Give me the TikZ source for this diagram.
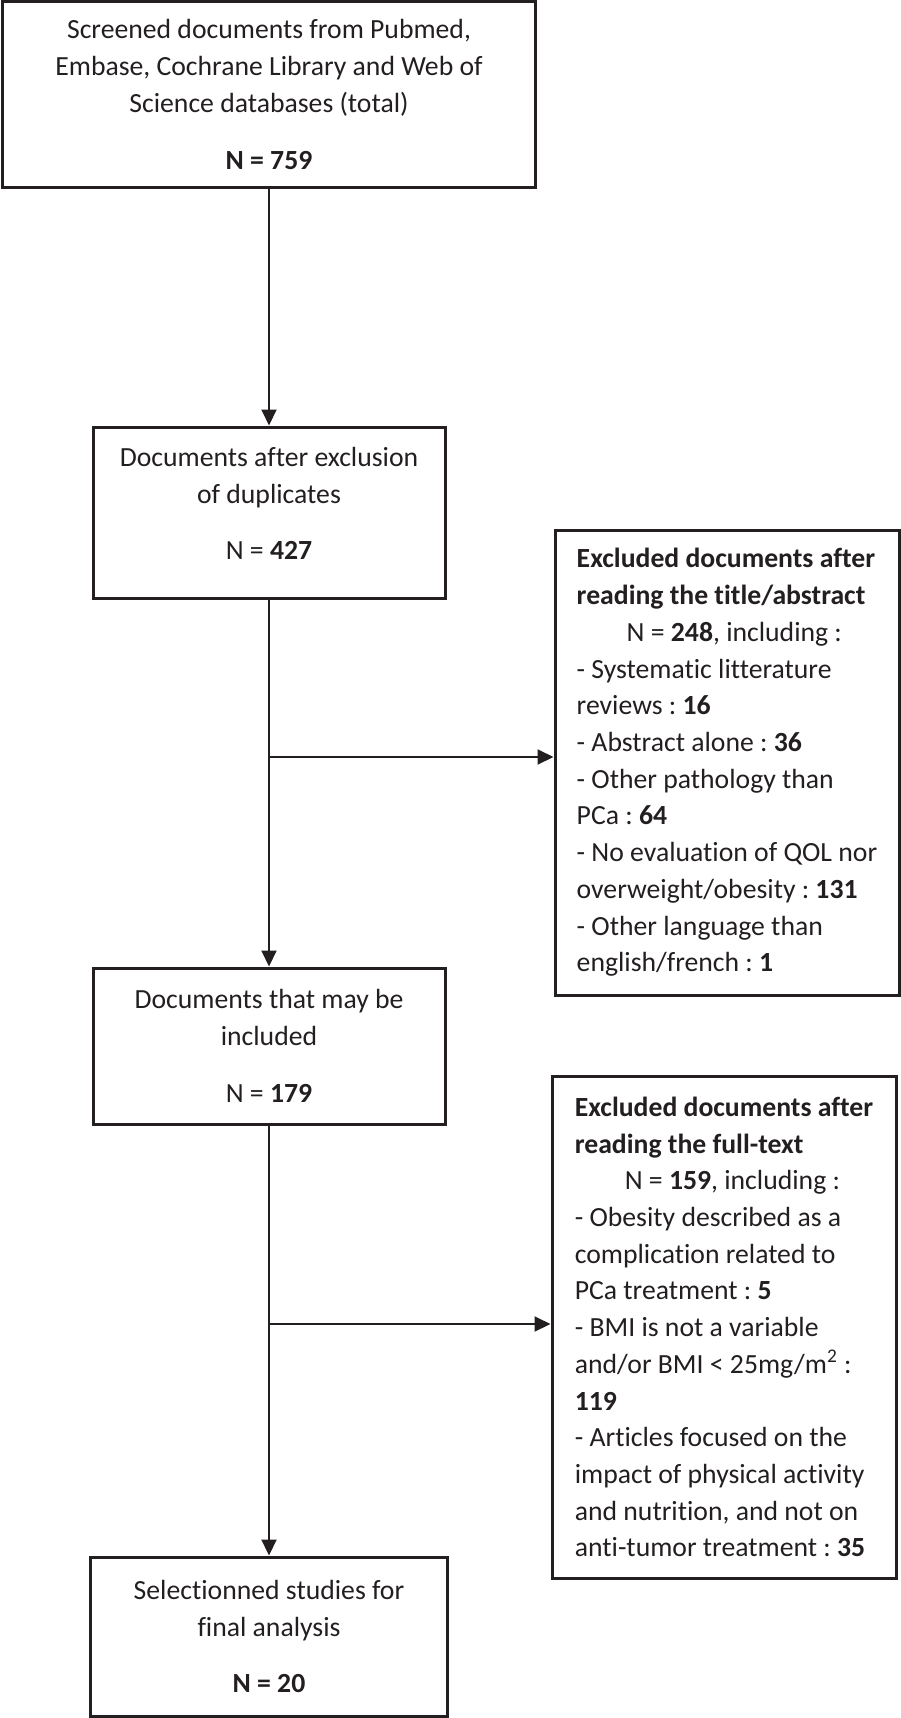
\documentclass[tikz,border=0pt]{standalone}
\usepackage{fontspec}
\setmainfont{Carlito}[Ligatures=NoCommon]
\usetikzlibrary{arrows.meta}
\definecolor{ink}{RGB}{35,31,32}
\frenchspacing

\begin{document}
\begin{tikzpicture}[x=0.5pt,y=-0.5pt,
    box/.style={draw=ink, line width=1.5pt, text=ink, align=center, inner sep=0pt,
        font=\fontsize{13.85}{18.35}\selectfont},
    excl/.style={box, align=left},
    flow/.style={draw=ink, line width=1pt, -{Triangle[length=8pt,width=7.5pt]}}]
    \useasboundingbox (0,0) rectangle (900,1718);
    \node[box, minimum width=266.5pt, minimum height=92.5pt] (screened) at (269,94.5)
        {Screened documents from Pubmed,\\ Embase, Cochrane Library and Web of\\ Science databases (total)\\[10pt] \textbf{N = 759}};
    \node[box, minimum width=176pt, minimum height=85.5pt] (dedup) at (269,512.5)
        {Documents after exclusion\\ of duplicates\\[10pt] N = \textbf{427}\rule[-9pt]{0pt}{0pt}};
    \node[box, minimum width=176pt, minimum height=78pt] (eligible) at (269,1046)
        {Documents that may be\\ included\\[10pt] N = \textbf{179}};
    \node[box, minimum width=178.5pt, minimum height=79.5pt] (final) at (269,1636.5)
        {Selectionned studies for\\ final analysis\\[10pt] \textbf{N = 20}};
    \node[excl, minimum width=172pt, minimum height=232.5pt] (exclabs) at (727,762.5)
        {\textbf{Excluded documents after}\\ \textbf{reading the title/abstract}\\
        \hspace*{25pt}N = \textbf{248}, including :\\ - Systematic litterature\\ reviews : \textbf{16}\\
        - Abstract alone : \textbf{36}\\ - Other pathology than\\ PCa : \textbf{64}\\
        - No evaluation of QOL nor\\ overweight/obesity : \textbf{131}\\ - Other language than\\ english/french : \textbf{1}};
    \node[excl, minimum width=172pt, minimum height=251pt] (exclfull) at (724,1327)
        {\textbf{Excluded documents after}\\ \textbf{reading the full-text}\\
        \hspace*{25pt}N = \textbf{159}, including :\\ - Obesity described as a\\ complication related to\\
        PCa treatment : \textbf{5}\\ - BMI is not a variable\\ and/or BMI < 25mg/m\textsuperscript{2} :\\ \textbf{119}\\
        - Articles focused on the\\ impact of physical activity\\ and nutrition, and not on\\ anti-tumor treatment : \textbf{35}};
    \coordinate (split1) at (269,757);
    \coordinate (split2) at (269,1324);
    \draw[flow] (screened) -- (dedup);
    \draw[flow] (dedup) -- (eligible);
    \draw[flow] (split1) -- (split1 -| exclabs.west);
    \draw[flow] (eligible) -- (final);
    \draw[flow] (split2) -- (split2 -| exclfull.west);
\end{tikzpicture}
\end{document}
